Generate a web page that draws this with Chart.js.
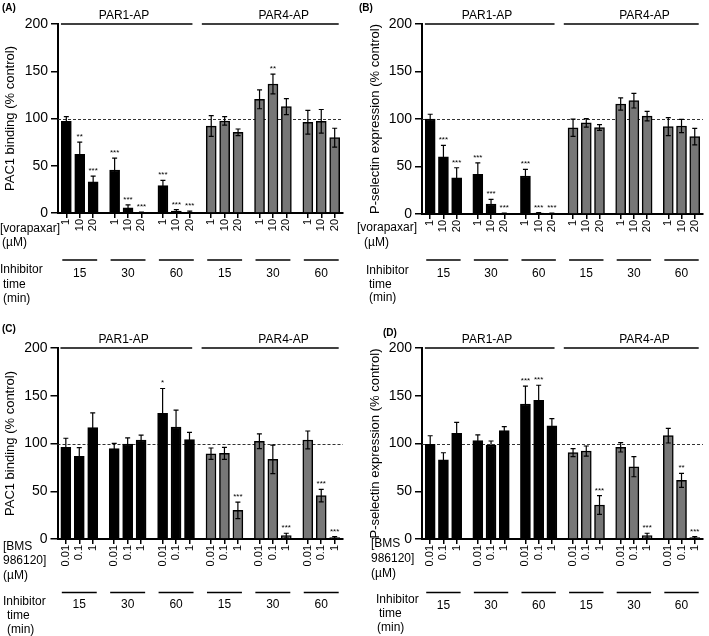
<!DOCTYPE html>
<html>
<head>
<meta charset="utf-8">
<script src="https://cdn.jsdelivr.net/npm/chart.js@4.4.1/dist/chart.umd.min.js"></script>
<style>
  html, body { margin: 0; padding: 0; background: #fff; }
  #wrap { position: relative; width: 709px; height: 636px; }
  canvas { position: absolute; }
</style>
</head>
<body>
<div id="wrap">
  <canvas id="cA" style="left:0;top:0"></canvas>
  <canvas id="cB" style="left:354px;top:0"></canvas>
  <canvas id="cC" style="left:0;top:318px"></canvas>
  <canvas id="cD" style="left:354px;top:318px"></canvas>
</div>
<script>
const FONT = 'Arial, "Liberation Sans", sans-serif';

// shared labels
const agonists = ['PAR1-AP', 'PAR4-AP'];
const timeLabels = ['15', '30', '60', '15', '30', '60'];
const vorapaxarDoses = ['1', '10', '20'];
const bmsDoses = ['0.01', '0.1', '1'];

// (A) PAC1 binding, vorapaxar
const pac1VoraPar1 = [97, 62, 33, 45.5, 5.6, 0.5, 29, 2, 0.5];
const pac1VoraPar1Err = [5, 13, 6, 12.5, 3, 0.5, 5.5, 1.5, 1.5];
const pac1VoraPar1Sig = ['', '**', '***', '***', '***', '***', '***', '***', '***'];
const pac1VoraPar4 = [92, 97.4, 85.4, 120.3, 136.5, 112.5, 96, 97, 79.7];
const pac1VoraPar4Err = [11, 4.5, 3.5, 10, 10.5, 8.5, 12.5, 12.5, 10];
const pac1VoraPar4Sig = ['', '', '', '', '**', '', '', '', ''];

// (B) P-selectin, vorapaxar
const pselVoraPar1 = [100, 60.3, 38.2, 41.8, 10.5, 0.5, 40, 1, 0.5];
const pselVoraPar1Err = [5, 12, 10.5, 12, 5, 0.5, 7, 0.5, 0.5];
const pselVoraPar1Sig = ['', '***', '***', '***', '***', '***', '***', '***', '***'];
const pselVoraPar4 = [90.8, 96, 91, 115.8, 119.3, 103, 92, 92.6, 81.4];
const pselVoraPar4Err = [9, 4.5, 3, 6.5, 7.7, 5, 9.5, 7, 8.7];
const pselVoraPar4Sig = ['', '', '', '', '', '', '', '', ''];

// (C) PAC1 binding, BMS-986120
const pac1BmsPar1 = [96, 86.6, 116.6, 94.6, 99.5, 103.7, 131.6, 117.3, 104];
const pac1BmsPar1Err = [9.5, 9, 15.5, 5.6, 6.3, 5, 26, 17.7, 7.7];
const pac1BmsPar1Sig = ['', '', '', '', '', '', '*', '', ''];
const pac1BmsPar4 = [89.3, 89.7, 30, 102.3, 83.4, 3.5, 103.7, 45.4, 1.5];
const pac1BmsPar4Err = [6, 6.3, 8.7, 7.7, 15, 2.5, 9.4, 6.6, 1];
const pac1BmsPar4Sig = ['', '', '***', '', '', '***', '', '***', '***'];

// (D) P-selectin, BMS-986120
const pselBmsPar1 = [99.1, 83, 110.7, 103, 98.4, 113.4, 141.4, 145.2, 118.6];
const pselBmsPar1Err = [9, 7.3, 11.5, 6, 4.2, 4.2, 18.6, 15.8, 7.4];
const pselBmsPar1Sig = ['', '', '', '', '', '', '***', '***', ''];
const pselBmsPar4 = [90.4, 92.1, 35.6, 96, 75.7, 3.5, 108.2, 61.4, 1.5];
const pselBmsPar4Err = [4.2, 5.3, 9.8, 4.9, 10.5, 2.5, 7.7, 7.4, 1];
const pselBmsPar4Sig = ['', '', '***', '', '', '***', '', '**', '***'];

// x layout in "bar units": 3 bars per group, groups 3.6 units apart
const GROUP_STEP = 3.6;
const xPos = [];
for (let g = 0; g < 6; g++) for (let i = 0; i < 3; i++) xPos.push(g * GROUP_STEP + i);
const agonistSpans = [[-0.4, 9.4, 4.3], [10.1, 20.3, 16.2]];

function makePanel(id, p) {
  const H = 318;
  const cv = document.getElementById(id);
  cv.width = p.w; cv.height = H;
  cv.style.width = p.w + 'px'; cv.style.height = H + 'px';

  const sets = [
    { vals: p.par1, err: p.par1Err, sig: p.par1Sig, off: 0, color: '#000' },
    { vals: p.par4, err: p.par4Err, sig: p.par4Sig, off: 9, color: '#777' }
  ];
  const doseLabels = [];
  for (let g = 0; g < 6; g++) doseLabels.push(...p.doses);

  const annot = {
    id: 'annot' + id,
    beforeDatasetsDraw(chart) {
      const { ctx, chartArea: a, scales: { y } } = chart;
      const yy = Math.round(y.getPixelForValue(100)) + 0.5;
      ctx.save();
      ctx.setLineDash([3, 2]);
      ctx.strokeStyle = '#333';
      ctx.lineWidth = 1;
      ctx.beginPath(); ctx.moveTo(a.left, yy); ctx.lineTo(a.right, yy); ctx.stroke();
      ctx.restore();
    },
    afterDatasetsDraw(chart) {
      const { ctx, scales: { y } } = chart;
      ctx.save();
      ctx.strokeStyle = '#000';
      ctx.fillStyle = '#000';
      ctx.lineWidth = 1.2;
      sets.forEach((s, di) => {
        const meta = chart.getDatasetMeta(di);
        s.vals.forEach((v, k) => {
          const bx = meta.data[k].x;
          const yTop = y.getPixelForValue(v + s.err[k]);
          const yBot = y.getPixelForValue(Math.max(0, v - s.err[k]));
          ctx.beginPath();
          ctx.moveTo(bx, yBot); ctx.lineTo(bx, yTop);
          ctx.moveTo(bx - 2.5, yTop); ctx.lineTo(bx + 2.5, yTop);
          if (v - s.err[k] > 0) { ctx.moveTo(bx - 2.5, yBot); ctx.lineTo(bx + 2.5, yBot); }
          ctx.stroke();
          if (s.sig[k]) {
            ctx.font = '8px ' + FONT;
            ctx.textAlign = 'center';
            ctx.textBaseline = 'alphabetic';
            ctx.fillText(s.sig[k], bx, yTop - 3);
          }
        });
      });
      ctx.restore();
    },
    afterDraw(chart) {
      const { ctx, scales: { x }, chartArea: a } = chart;
      ctx.save();
      ctx.fillStyle = '#000';
      ctx.strokeStyle = '#000';
      ctx.textBaseline = 'alphabetic';
      // panel letter
      ctx.font = 'bold 10px ' + FONT;
      ctx.textAlign = 'left';
      ctx.fillText(p.letter[0], p.letter[1], p.letter[2]);
      // agonist headers
      ctx.font = '12px ' + FONT;
      ctx.lineWidth = 1.5;
      agonistSpans.forEach((sp, k) => {
        ctx.beginPath();
        ctx.moveTo(x.getPixelForValue(sp[0]), a.top);
        ctx.lineTo(x.getPixelForValue(sp[1]), a.top);
        ctx.stroke();
        ctx.textAlign = 'center';
        ctx.fillText(agonists[k], x.getPixelForValue(sp[2]), a.top - 5);
      });
      // inhibitor time groups
      timeLabels.forEach((t, g) => {
        const g0 = g * GROUP_STEP;
        ctx.beginPath();
        ctx.moveTo(x.getPixelForValue(g0 - 0.3), p.timeLineY);
        ctx.lineTo(x.getPixelForValue(g0 + 2.3), p.timeLineY);
        ctx.stroke();
        ctx.textAlign = 'center';
        ctx.fillText(t, x.getPixelForValue(g0 + 1), p.timeY);
      });
      // row titles
      ctx.textAlign = 'left';
      p.doseText.concat(p.timeText).forEach(r => ctx.fillText(r[0], r[1], r[2]));
      ctx.restore();
    }
  };

  new Chart(cv.getContext('2d'), {
    type: 'bar',
    data: {
      datasets: sets.map(s => ({
        data: s.vals.map((v, k) => ({ x: xPos[s.off + k], y: v })),
        backgroundColor: s.color,
        borderColor: '#000',
        borderWidth: 1.5,
        barThickness: 10,
        grouped: false
      }))
    },
    options: {
      responsive: false,
      animation: false,
      devicePixelRatio: 1,
      layout: { padding: { left: 0, right: p.w - p.right, top: p.top, bottom: 0 } },
      plugins: { legend: { display: false }, tooltip: { enabled: false } },
      scales: {
        x: {
          type: 'linear',
          min: -0.62,
          max: 20.62,
          offset: false,
          afterFit: s => { s.height = H - p.bottom; },
          afterBuildTicks: s => { s.ticks = xPos.map(v => ({ value: v })); },
          grid: { drawOnChartArea: false, offset: false, tickLength: 5, color: '#000', lineWidth: 1.5 },
          border: { color: '#000', width: 2 },
          ticks: {
            autoSkip: false, minRotation: 90, maxRotation: 90, padding: 1,
            color: '#000', font: { size: 11, family: FONT },
            callback: (v, i) => doseLabels[i]
          }
        },
        y: {
          min: 0,
          max: 200,
          afterFit: s => { s.width = p.left; },
          grid: { drawOnChartArea: false, tickLength: 7, color: '#000', lineWidth: 1.5 },
          border: { color: '#000', width: 2 },
          ticks: { stepSize: 50, padding: 3, color: '#000', font: { size: 14, family: FONT } },
          title: {
            display: true, text: p.yTitle, color: '#000',
            font: { size: 13, family: FONT }, padding: { top: p.titlePad, bottom: 0 }
          }
        }
      }
    },
    plugins: [annot]
  });
}

makePanel('cA', {
  w: 354, left: 58, right: 343, top: 24, bottom: 213, titlePad: 3,
  yTitle: 'PAC1 binding (% control)', doses: vorapaxarDoses,
  par1: pac1VoraPar1, par1Err: pac1VoraPar1Err, par1Sig: pac1VoraPar1Sig,
  par4: pac1VoraPar4, par4Err: pac1VoraPar4Err, par4Sig: pac1VoraPar4Sig,
  letter: ['(A)', 2, 11],
  doseText: [['[vorapaxar]', 0, 232], ['(µM)', 2, 246]],
  timeLineY: 260, timeY: 277,
  timeText: [['Inhibitor', 0, 273], ['time', 3, 288], ['(min)', 3, 302]]
});

makePanel('cB', {
  w: 355, left: 68, right: 353, top: 24, bottom: 214, titlePad: 14,
  yTitle: 'P-selectin expression (% control)', doses: vorapaxarDoses,
  par1: pselVoraPar1, par1Err: pselVoraPar1Err, par1Sig: pselVoraPar1Sig,
  par4: pselVoraPar4, par4Err: pselVoraPar4Err, par4Sig: pselVoraPar4Sig,
  letter: ['(B)', 5, 11],
  doseText: [['[vorapaxar]', 3, 231], ['(µM)', 10, 246]],
  timeLineY: 260, timeY: 277,
  timeText: [['Inhibitor', 12, 274], ['time', 15, 288], ['(min)', 15, 301]]
});

makePanel('cC', {
  w: 354, left: 57.5, right: 343, top: 30, bottom: 221, titlePad: 3,
  yTitle: 'PAC1 binding (% control)', doses: bmsDoses,
  par1: pac1BmsPar1, par1Err: pac1BmsPar1Err, par1Sig: pac1BmsPar1Sig,
  par4: pac1BmsPar4, par4Err: pac1BmsPar4Err, par4Sig: pac1BmsPar4Sig,
  letter: ['(C)', 2, 14],
  doseText: [['[BMS', 3, 232], ['986120]', 3, 246], ['(µM)', 3, 261]],
  timeLineY: 274.5, timeY: 290,
  timeText: [['Inhibitor', 3, 287], ['time', 7, 301], ['(min)', 7, 315]]
});

makePanel('cD', {
  w: 355, left: 68, right: 353, top: 30, bottom: 221, titlePad: 14,
  yTitle: 'P-selectin expression (% control)', doses: bmsDoses,
  par1: pselBmsPar1, par1Err: pselBmsPar1Err, par1Sig: pselBmsPar1Sig,
  par4: pselBmsPar4, par4Err: pselBmsPar4Err, par4Sig: pselBmsPar4Sig,
  letter: ['(D)', 29, 18],
  doseText: [['[BMS', 17, 229], ['986120]', 17, 244], ['(µM)', 17, 259]],
  timeLineY: 274.5, timeY: 291,
  timeText: [['Inhibitor', 22, 285], ['time', 25, 299], ['(min)', 23, 313]]
});
</script>
</body>
</html>
